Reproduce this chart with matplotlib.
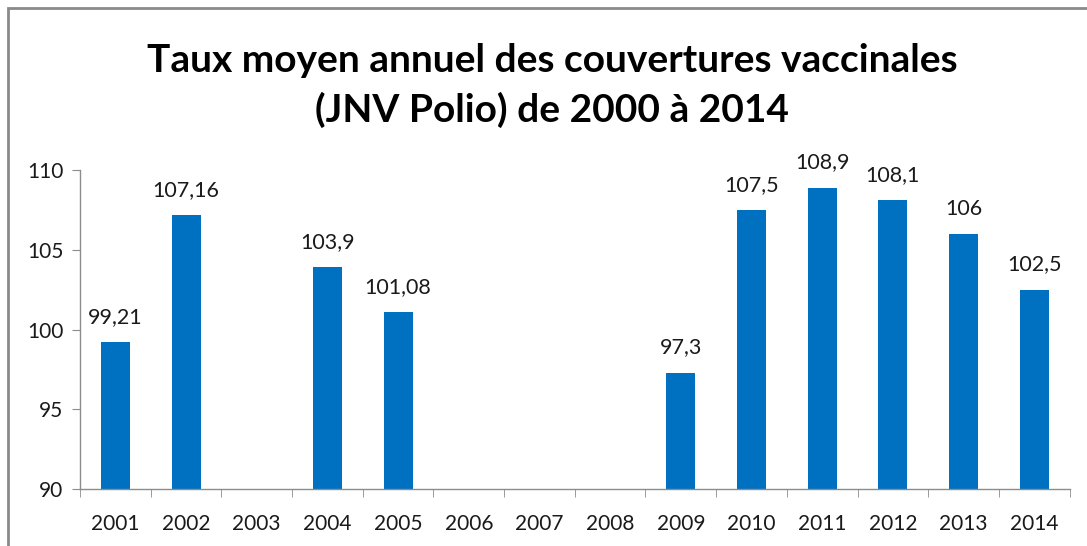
import matplotlib.pyplot as plt
from matplotlib.patches import Rectangle
import numpy as np

# Data (None = no value that year)
years = ['2001', '2002', '2003', '2004', '2005', '2006', '2007',
         '2008', '2009', '2010', '2011', '2012', '2013', '2014']
taux = [99.21, 107.16, None, 103.9, 101.08, None, None,
        None, 97.3, 107.5, 108.9, 108.1, 106, 102.5]
labels = ['99,21', '107,16', '', '103,9', '101,08', '', '',
          '', '97,3', '107,5', '108,9', '108,1', '106', '102,5']

plt.rcParams['font.family'] = ['Lato', 'DejaVu Sans']

fig = plt.figure(figsize=(10.87, 5.46), dpi=100)
ax = fig.add_axes([0.0736, 0.1044, 0.9104, 0.5842])

x = np.arange(len(years))
vals = np.array([np.nan if v is None else v for v in taux])
ymin = 90
bars = ax.bar(x, vals - ymin, bottom=ymin, width=0.41, color='#0070C0')

for xi, v, lab in zip(x, vals, labels):
    if not np.isnan(v):
        ax.annotate(lab, (xi, v), xytext=(0, 11), textcoords='offset points',
                    ha='center', va='bottom', fontsize=15.5, color='#1a1a1a')

ax.set_xlim(-0.5, len(years) - 0.5)
ax.set_ylim(90, 110)
ax.set_yticks([90, 95, 100, 105, 110])
ax.set_xticks(x)
ax.set_xticklabels(years)
ax.set_xticks(np.arange(-0.5, len(years)), minor=True)

for s in ['top', 'right']:
    ax.spines[s].set_visible(False)
for s in ['left', 'bottom']:
    ax.spines[s].set_color('#8c8c8c')
    ax.spines[s].set_linewidth(1)

ax.tick_params(axis='y', length=6, color='#8c8c8c', labelsize=15,
               labelcolor='#1a1a1a', pad=6)
ax.tick_params(axis='x', which='major', length=0, labelsize=15,
               labelcolor='#1a1a1a', pad=18)
ax.tick_params(axis='x', which='minor', length=6, color='#8c8c8c')

fig.text(0.508, 0.89, 'Taux moyen annuel des couvertures vaccinales',
         ha='center', va='center', fontsize=28, fontweight='bold')
fig.text(0.508, 0.798, '(JNV Polio) de 2000 à 2014',
         ha='center', va='center', fontsize=28, fontweight='bold')

# chart area border (only top and left visible in the crop)
fig.patches.append(Rectangle((8 / 1087, -0.1), 1.2, 1 - 8 / 546 + 0.1,
                             transform=fig.transFigure, fill=False,
                             edgecolor='#8a8a8a', linewidth=2))

fig.savefig('out.png', dpi=100)
